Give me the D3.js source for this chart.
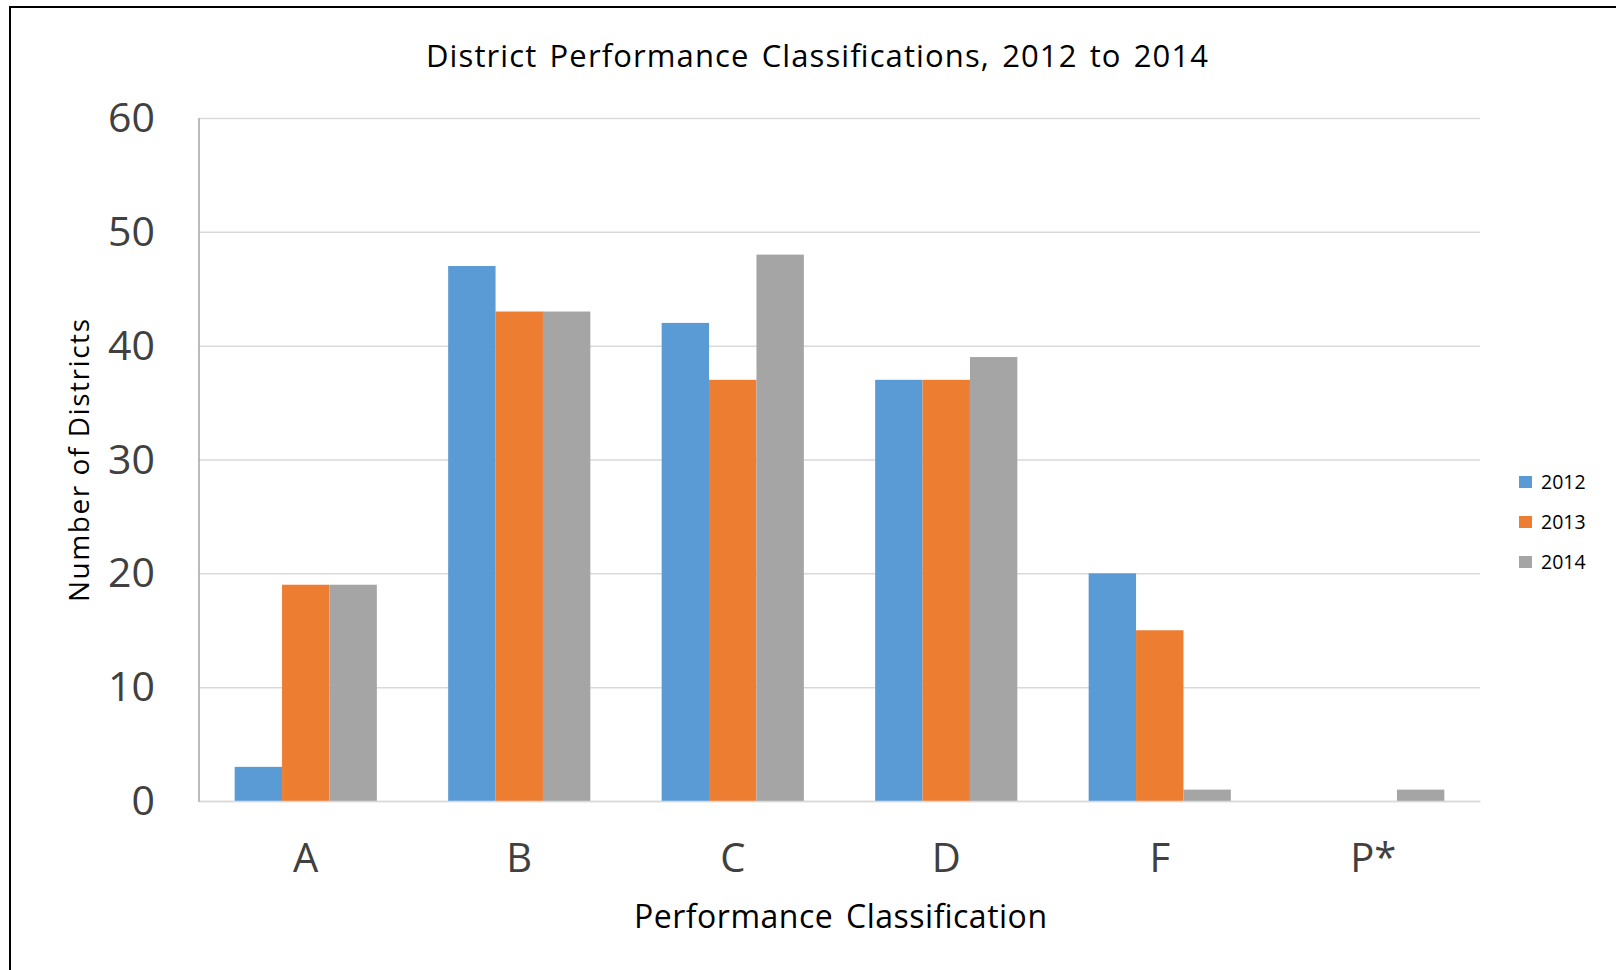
<!DOCTYPE html>
<html>
<head>
<meta charset="utf-8">
<script src="https://cdn.jsdelivr.net/npm/d3@7"></script>
<style>
  html, body { margin: 0; padding: 0; background: #fff; }
  svg { display: block; font-family: "Open Sans", "DejaVu Sans", sans-serif; }
</style>
</head>
<body>
<svg id="chart" width="1616" height="970"></svg>
<script>
const categories = ["A", "B", "C", "D", "F", "P*"];
const seriesNames = ["2012", "2013", "2014"];
const values2012 = [3, 47, 42, 37, 20, 0];
const values2013 = [19, 43, 37, 37, 15, 0];
const values2014 = [19, 43, 48, 39, 1, 1];
const yTicks = [0, 10, 20, 30, 40, 50, 60];
const colors = ["#5B9BD5", "#ED7D31", "#A5A5A5"];

const series = [values2012, values2013, values2014];
const svg = d3.select("#chart");
const W = 1616, H = 970;
const plot = { left: 199, right: 1480, top: 118, bottom: 801 };

// frame (top + left only)
svg.append("line").attr("x1", 9).attr("x2", W).attr("y1", 7).attr("y2", 7)
  .attr("stroke", "#000").attr("stroke-width", 2);
svg.append("line").attr("x1", 10).attr("x2", 10).attr("y1", 6).attr("y2", H)
  .attr("stroke", "#000").attr("stroke-width", 2);

const x = d3.scaleBand().domain(categories).range([plot.left, plot.right])
  .paddingInner(0.334).paddingOuter(0.167);
const xs = d3.scaleBand().domain(seriesNames).range([0, x.bandwidth()]);
const y = d3.scaleLinear().domain([0, 60]).range([plot.bottom, plot.top]);

// gridlines
const yAxis = d3.axisLeft(y).tickValues(yTicks).tickSize(-(plot.right - plot.left)).tickPadding(44);
const gy = svg.append("g").attr("transform", `translate(${plot.left},0)`).call(yAxis);
gy.select(".domain").remove();
gy.selectAll(".tick line").attr("stroke", "#D9D9D9").attr("stroke-width", 1.5);
gy.selectAll(".tick text").attr("fill", "#404040").attr("font-size", 41)
  .attr("font-family", "'Open Sans', sans-serif").attr("dy", "0.33em");

// bars
const groups = svg.append("g").selectAll("g").data(categories).join("g")
  .attr("transform", d => `translate(${x(d)},0)`);
groups.selectAll("rect")
  .data((d, i) => seriesNames.map((s, j) => ({ s, j, v: series[j][i] })))
  .join("rect")
  .attr("x", d => xs(d.s))
  .attr("width", xs.bandwidth())
  .attr("y", d => y(d.v))
  .attr("height", d => y(0) - y(d.v))
  .attr("fill", d => colors[d.j]);

// left axis line
svg.append("line").attr("x1", plot.left).attr("x2", plot.left)
  .attr("y1", plot.top).attr("y2", plot.bottom + 1)
  .attr("stroke", "#A6A6A6").attr("stroke-width", 1.5);

// x axis
const xAxis = d3.axisBottom(x).tickSize(0).tickPadding(43);
const gx = svg.append("g").attr("transform", `translate(0,${plot.bottom})`).call(xAxis);
gx.select(".domain").attr("stroke", "#D9D9D9").attr("stroke-width", 1.5);
gx.selectAll(".tick text").attr("fill", "#404040").attr("font-size", 40)
  .attr("font-family", "'Open Sans', sans-serif").attr("dy", "0.71em");

// title
svg.append("text").attr("x", 426).attr("y", 67)
  .attr("font-size", 31).attr("fill", "#000").attr("word-spacing", 3)
  .attr("textLength", 782).attr("lengthAdjust", "spacing")
  .text("District Performance Classifications, 2012 to 2014");

// x axis title
svg.append("text").attr("x", 634).attr("y", 928)
  .attr("font-size", 32).attr("fill", "#000").attr("word-spacing", 4)
  .attr("textLength", 413).attr("lengthAdjust", "spacing")
  .text("Performance Classification");

// y axis title
svg.append("text").attr("transform", "translate(89,602) rotate(-90)")
  .attr("font-size", 28).attr("fill", "#000")
  .attr("textLength", 283).attr("lengthAdjust", "spacing")
  .text("Number of Districts");

// legend
const leg = svg.append("g").selectAll("g").data(seriesNames).join("g")
  .attr("transform", (d, i) => `translate(1519,${476 + i * 40})`);
leg.append("rect").attr("width", 13).attr("height", 12).attr("fill", (d, i) => colors[i]);
leg.append("text").attr("x", 22).attr("y", 13).attr("font-size", 19.5).attr("fill", "#000")
  .text(d => d);
</script>
</body>
</html>
